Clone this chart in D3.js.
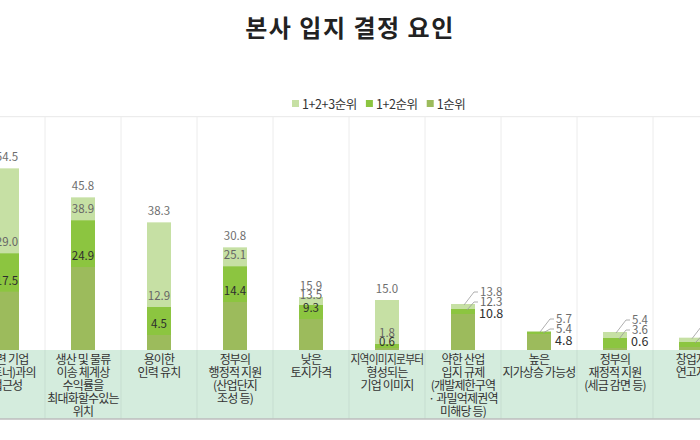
<!DOCTYPE html>
<html><head><meta charset="utf-8">
<script src="https://cdn.jsdelivr.net/npm/d3@7/dist/d3.min.js"></script>
<style>body{margin:0;background:#fff}svg{display:block}</style>
</head><body>
<svg id="c" width="700" height="440"></svg>
<script>
const title = "본사 입지 결정 요인";
const categories = [
  "관련 기업\n(파트너)과의\n접근성",
  "생산 및 물류\n이송 체계상\n수익률을\n최대화할수있는\n위치",
  "용이한\n인력 유치",
  "정부의\n행정적 지원\n(산업단지\n조성 등)",
  "낮은\n토지가격",
  "지역이미지로부터\n형성되는\n기업 이미지",
  "약한 산업\n입지 규제\n(개발제한구역\n· 과밀억제권역\n미해당 등)",
  "높은\n지가상승 가능성",
  "정부의\n재정적 지원\n(세금 감면 등)",
  "창업자\n연고지"
];
const seriesNames = ["1+2+3순위", "1+2순위", "1순위"];
const rank123 = [54.5, 45.8, 38.3, 30.8, 15.9, 15.0, 13.8, 5.7, 5.4, 3.7];
const rank12  = [29.0, 38.9, 12.9, 25.1, 13.5, 1.8, 12.3, 5.4, 3.6, 2.4];
const rank1   = [17.5, 24.9, 4.5, 14.4, 9.3, 0.6, 10.8, 4.8, 0.6, 0.9];
const sideLabel = [false, false, false, false, false, false, true, true, true, true];

const colors = ["#c6e0a4", "#8cc540", "#9cbb5c"];
const FONT = "'Noto Sans CJK KR','Noto Sans',sans-serif";

const svg = d3.select("#c");
svg.append("rect").attr("width", 700).attr("height", 440).attr("fill", "#fff");

const x = d3.scaleBand().domain(categories).range([-31, 729]).padding(0);
const y = d3.scaleLinear().domain([0, 70]).range([350, 116.7]);
const barW = 24;
const bw = x.bandwidth();

// title
svg.append("text").attr("x", 350).attr("y", 37).attr("text-anchor", "middle")
  .attr("font-family", FONT).attr("font-size", 24).attr("font-weight", 700)
  .attr("letter-spacing", 1.5).attr("fill", "#222").text(title);

// legend
const legend = svg.append("g").attr("font-family", FONT).attr("font-size", 12.5).attr("fill", "#333");
let lx = 292;
seriesNames.forEach((n, i) => {
  legend.append("rect").attr("x", lx).attr("y", 100).attr("width", 7).attr("height", 7).attr("fill", colors[i]);
  const t = legend.append("text").attr("x", lx + 10).attr("y", 108.5).attr("letter-spacing", -0.4).text(n);
  lx += 10 + t.node().getComputedTextLength() + 9;
});

// grid
const grid = svg.append("g");
grid.append("line").attr("x1", 0).attr("x2", 700).attr("y1", y(70)).attr("y2", y(70))
  .attr("stroke", "#e8e8e8");
categories.forEach(c => {
  const bx = x(c) + bw;
  grid.append("line").attr("x1", bx).attr("x2", bx).attr("y1", y(70)).attr("y2", y(0))
    .attr("stroke", "#ececec");
});

// category band
svg.append("rect").attr("x", 0).attr("y", y(0)).attr("width", 700).attr("height", 69).attr("fill", "#d4ecdd");
categories.forEach(c => {
  const bx = x(c) + bw;
  svg.append("line").attr("x1", bx).attr("x2", bx).attr("y1", y(0)).attr("y2", y(0) + 69)
    .attr("stroke", "#c6ddd0");
});
svg.append("line").attr("x1", 0).attr("x2", 700).attr("y1", y(0) + 69).attr("y2", y(0) + 69)
  .attr("stroke", "#bdbdbd").attr("stroke-width", 1.5);

categories.forEach(c => {
  const cx = x(c) + bw / 2;
  const t = svg.append("text").attr("font-family", FONT).attr("font-size", 12)
    .attr("fill", "#333").attr("text-anchor", "middle").attr("letter-spacing", -0.8);
  c.split("\n").forEach((ln, j) => {
    const ts = t.append("tspan").attr("x", cx).attr("y", y(0) + 13.5 + j * 13).text(ln);
    const w = ts.node().getComputedTextLength();
    if (w > bw - 3) ts.attr("textLength", bw - 3).attr("lengthAdjust", "spacingAndGlyphs");
  });
});

// bars
const series = [rank123, rank12, rank1];
const bars = svg.append("g");
series.forEach((vals, si) => {
  bars.selectAll(null).data(categories).enter().append("rect")
    .attr("x", d => x(d) + bw / 2 - barW / 2)
    .attr("width", barW)
    .attr("y", (d, i) => y(vals[i]))
    .attr("height", (d, i) => y(0) - y(vals[i]))
    .attr("fill", colors[si]);
});

// labels
const lab = svg.append("g").attr("font-family", FONT).attr("font-size", 11.5);
categories.forEach((c, i) => {
  const cx = x(c) + bw / 2;
  const fmt = d3.format(".1f");
  if (!sideLabel[i]) {
    const b3 = y(rank123[i]) - 7;
    const b2 = Math.max(y(rank12[i]) - 7, b3 + 9);
    const b1 = Math.max(y(rank1[i]) - 7, b2 + 9);
    lab.append("text").attr("x", cx).attr("y", b3).attr("text-anchor", "middle").attr("fill", "#6e6e6e").text(fmt(rank123[i]));
    lab.append("text").attr("x", cx).attr("y", b2).attr("text-anchor", "middle").attr("fill", "#666").text(fmt(rank12[i]));
    lab.append("text").attr("x", cx).attr("y", b1).attr("text-anchor", "middle").attr("fill", "#2e2e2e").text(fmt(rank1[i]));
  } else {
    const top = y(rank123[i]);
    const c3 = top - 12, c2 = top - 2, c1 = top + 10;
    const lx0 = cx + 17;
    lab.append("text").attr("x", lx0).attr("y", c3 + 4).attr("fill", "#6e6e6e").text(fmt(rank123[i]));
    lab.append("text").attr("x", lx0).attr("y", c2 + 4).attr("fill", "#666").text(fmt(rank12[i]));
    lab.append("text").attr("x", lx0 - 1).attr("y", c1 + 4).attr("fill", "#2e2e2e").attr("font-size", 12.5).text(fmt(rank1[i]));
    const line = d3.line();
    svg.append("path").attr("d", line([[cx + 1, y(rank123[i]) + 1], [cx + 11, c3], [cx + 15, c3]]))
      .attr("fill", "none").attr("stroke", "#9a9a9a").attr("stroke-width", 0.8);
    svg.append("path").attr("d", line([[cx + 4, y(rank12[i]) + 1], [cx + 11, c2], [cx + 15, c2]]))
      .attr("fill", "none").attr("stroke", "#9a9a9a").attr("stroke-width", 0.8);
  }
});
</script>
</body></html>
